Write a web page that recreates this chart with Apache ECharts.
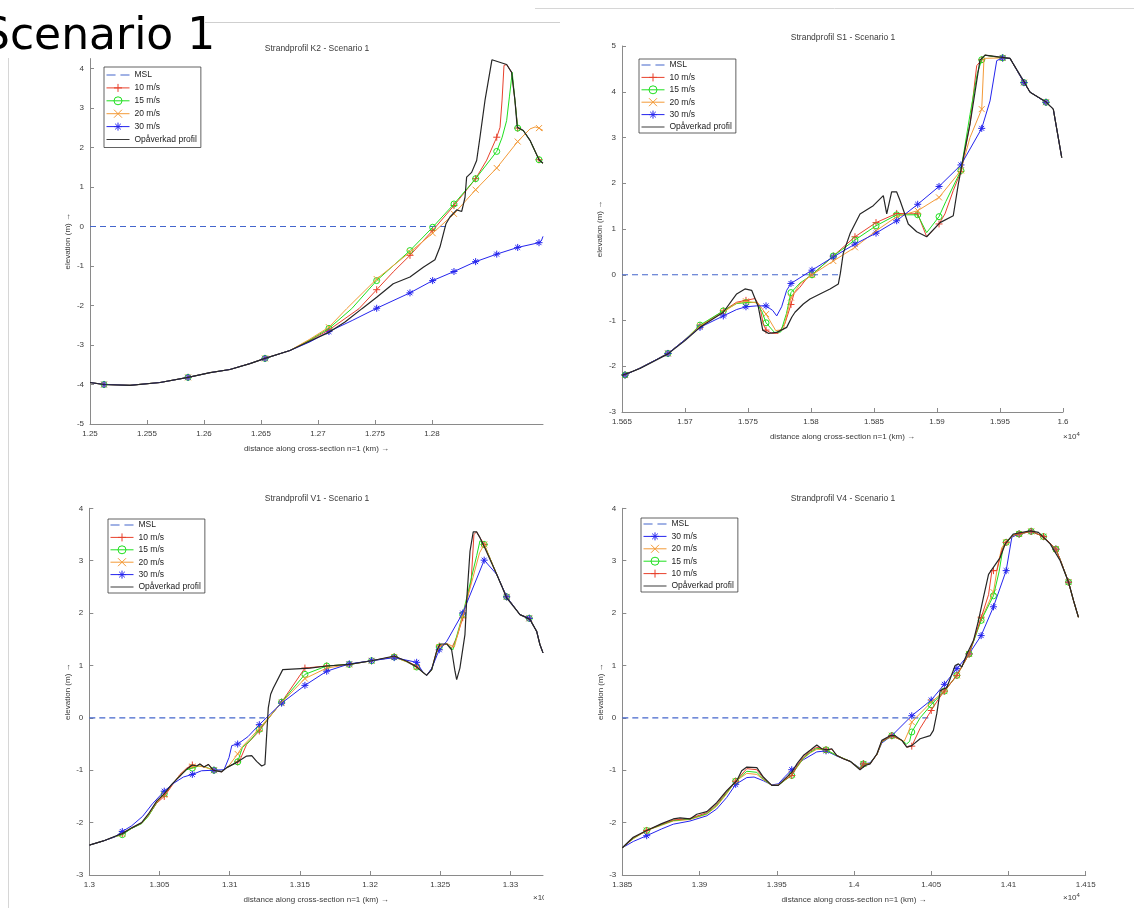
<!DOCTYPE html>
<html>
<head>
<meta charset="utf-8">
<script src="https://cdn.jsdelivr.net/npm/echarts@6/dist/echarts.min.js"></script>
<style>
html,body{margin:0;padding:0;background:#fff}
#chart{width:1134px;height:908px}
</style>
</head>
<body>
<div id="chart"></div>
<script>
// Beach profiles: distance along cross-section (x 10^4 m) against elevation (m).
// A third value of 1 marks a point where the series marker is drawn.

// ---- K2 ----
const K2_MSL = [[1.25, 0], [1.2813, 0]];
const K2_BASE = [[1.25,-3.95],[1.25123,-4.0,1],[1.25351,-4.02],[1.25614,-3.95],[1.2586,-3.82,1],[1.26053,-3.70],[1.26228,-3.62],[1.26404,-3.47],[1.26535,-3.34,1],[1.26754,-3.14]];
const K2_10 = K2_BASE.concat([[1.2693,-2.88],[1.27096,-2.62,1],[1.2736,-2.08],[1.27515,-1.60,1],[1.2766,-1.15],[1.27807,-0.73,1],[1.28006,-0.10,1],[1.28193,0.53,1],[1.28383,1.21,1],[1.2848,1.68],[1.28568,2.26,1],[1.28597,2.51],[1.28615,3.2],[1.28632,4.08],[1.28655,4.10],[1.28699,3.90],[1.28728,3.19],[1.28752,2.49,1],[1.28801,2.43],[1.2886,2.18],[1.28939,1.69,1],[1.28974,1.60]]);
const K2_15 = K2_BASE.concat([[1.2693,-2.87],[1.27096,-2.58,1],[1.27296,-2.08],[1.27515,-1.37,1],[1.27807,-0.61,1],[1.28006,-0.02,1],[1.28193,0.57,1],[1.28383,1.21,1],[1.28568,1.90,1],[1.28615,2.25],[1.28655,2.68],[1.2868,3.3],[1.28704,3.90],[1.28728,3.19],[1.28752,2.49,1],[1.28801,2.43],[1.2886,2.18],[1.28939,1.69,1],[1.28974,1.60]]);
const K2_20 = K2_BASE.concat([[1.2693,-2.85],[1.27096,-2.55,1],[1.27252,-2.08],[1.27515,-1.33,1],[1.27807,-0.65,1],[1.28006,-0.17,1],[1.28193,0.32,1],[1.28383,0.93,1],[1.28568,1.48,1],[1.28752,2.15,1],[1.2886,2.47],[1.28905,2.52],[1.28939,2.49,1],[1.28974,2.43]]);
const K2_30 = K2_BASE.concat([[1.2693,-2.92],[1.27096,-2.66,1],[1.2730,-2.38],[1.27515,-2.07,1],[1.27807,-1.68,1],[1.28006,-1.37,1],[1.28193,-1.14,1],[1.28383,-0.89,1],[1.28568,-0.70,1],[1.28752,-0.53,1],[1.28939,-0.41,1],[1.2896,-0.36],[1.28974,-0.25]]);
const K2_PROF = [[1.25,-3.95],[1.25123,-4.0],[1.25351,-4.02],[1.25614,-3.95],[1.2586,-3.82],[1.26053,-3.70],[1.26228,-3.62],[1.26404,-3.47],[1.26535,-3.34],[1.26754,-3.14],[1.2693,-2.90],[1.27096,-2.68],[1.27237,-2.42],[1.27386,-2.08],[1.27515,-1.79],[1.2766,-1.45],[1.27807,-1.28],[1.27924,-1.03],[1.28026,-0.84],[1.2807,-0.52],[1.28123,0.07],[1.28158,0.24],[1.28217,0.42],[1.28261,0.38],[1.2829,0.74],[1.28304,1.25],[1.28348,1.37],[1.28392,1.67],[1.28421,2.26],[1.28465,3.19],[1.28526,4.22],[1.28655,4.10],[1.28699,3.90],[1.28728,3.19],[1.28748,2.51],[1.28801,2.43],[1.2886,2.18],[1.28939,1.69],[1.28974,1.60]];

// ---- S1 ----
const S1_MSL = [[1.565, 0], [1.5822, 0]];
const S1_BASE = [[1.565,-2.2],[1.56524,-2.19,1],[1.56643,-2.04],[1.56762,-1.87],[1.56865,-1.72,1],[1.57,-1.42]];
const S1_TAIL = [[1.59521,4.74,1],[1.5958,4.73],[1.5969,4.20,1],[1.5974,3.99],[1.59865,3.77,1],[1.59923,3.62],[1.5999,2.56]];
const S1_10 = S1_BASE.concat([[1.57119,-1.12,1],[1.57304,-0.79,1],[1.5741,-0.60],[1.57484,-0.56,1],[1.57556,-0.52],[1.57595,-0.70],[1.5762,-1.07],[1.57643,-1.21,1],[1.57688,-1.28],[1.5774,-1.28],[1.57794,-1.06],[1.57841,-0.65,1],[1.57865,-0.41],[1.57913,-0.27],[1.57966,-0.08],[1.58008,0.0,1],[1.58177,0.41,1],[1.58349,0.83,1],[1.58516,1.14,1],[1.5868,1.34,1],[1.58847,1.33,1],[1.58918,0.83],[1.59016,1.11,1],[1.59063,1.33],[1.59129,1.84],[1.5919,2.26,1],[1.59262,3.30],[1.59315,4.57],[1.59355,4.70,1],[1.5938,4.80]], S1_TAIL);
const S1_15 = S1_BASE.concat([[1.57119,-1.10,1],[1.57304,-0.79,1],[1.5741,-0.63],[1.57484,-0.61,1],[1.57565,-0.60],[1.5761,-0.80],[1.57643,-1.05,1],[1.5771,-1.26],[1.5776,-1.25],[1.57805,-0.85],[1.57841,-0.39,1],[1.57913,-0.18],[1.58008,0.0,1],[1.58177,0.41,1],[1.58349,0.76,1],[1.58516,1.07,1],[1.5868,1.31,1],[1.58847,1.31,1],[1.58918,0.92],[1.59016,1.27,1],[1.5907,1.6],[1.5919,2.28,1],[1.59262,3.5],[1.5932,4.4],[1.59355,4.70,1],[1.5938,4.80]], S1_TAIL);
const S1_20 = S1_BASE.concat([[1.57119,-1.12,1],[1.57304,-0.82,1],[1.5741,-0.62],[1.57484,-0.58,1],[1.5758,-0.62],[1.57643,-0.86,1],[1.5772,-1.22],[1.5778,-1.20],[1.57841,-0.50,1],[1.57913,-0.20],[1.58008,0.0,1],[1.58177,0.30,1],[1.58349,0.60,1],[1.58516,0.96,1],[1.5868,1.27,1],[1.58847,1.40,1],[1.59016,1.69,1],[1.5919,2.28,1],[1.59262,3.0],[1.59355,3.62,1],[1.59373,4.73]], S1_TAIL);
const S1_30 = S1_BASE.concat([[1.57119,-1.15,1],[1.57304,-0.90,1],[1.5741,-0.76],[1.57484,-0.70,1],[1.5757,-0.68],[1.57643,-0.68,1],[1.57696,-0.78],[1.57728,-0.90],[1.57767,-0.70],[1.57807,-0.34],[1.57841,-0.19,1],[1.58008,0.10,1],[1.58177,0.39,1],[1.58349,0.67,1],[1.58516,0.91,1],[1.5868,1.18,1],[1.58847,1.54,1],[1.59016,1.93,1],[1.5919,2.40,1],[1.59355,3.20,1],[1.59421,3.80],[1.59474,4.68]], S1_TAIL);
const S1_PROF = [[1.565,-2.2],[1.56643,-2.05],[1.56762,-1.88],[1.56865,-1.73],[1.57,-1.44],[1.57119,-1.15],[1.57304,-0.82],[1.5741,-0.42],[1.57476,-0.31],[1.57529,-0.34],[1.57582,-0.70],[1.57617,-1.21],[1.57661,-1.28],[1.57728,-1.26],[1.57807,-1.15],[1.57847,-0.93],[1.57873,-0.82],[1.57939,-0.64],[1.57992,-0.53],[1.58071,-0.42],[1.58151,-0.31],[1.58217,-0.20],[1.58233,0.03],[1.58256,0.47],[1.5831,0.90],[1.58389,1.33],[1.58494,1.51],[1.58574,1.73],[1.58601,1.33],[1.5864,1.81],[1.5868,1.81],[1.58706,1.63],[1.58772,1.11],[1.58839,0.94],[1.58918,0.83],[1.59024,1.14],[1.59129,1.29],[1.59169,1.98],[1.59209,2.56],[1.59262,3.29],[1.59341,4.69],[1.59381,4.80],[1.59579,4.73],[1.59685,4.25],[1.59738,3.99],[1.59865,3.78],[1.59923,3.62],[1.5999,2.56]];

// ---- V1 ----
const V1_MSL = [[1.3, 0], [1.3125, 0]];
const V1_BASE = [[1.3,-2.43],[1.3010,-2.35],[1.30183,-2.27]];
const V1_TAIL = [[1.32902,2.74],[1.32973,2.31,1],[1.33068,1.97],[1.33134,1.90,1],[1.33187,1.65],[1.3321,1.40],[1.33232,1.24]];
const V1_10 = V1_BASE.concat([[1.30235,-2.21,1],[1.30302,-2.11],[1.30373,-2.01],[1.3042,-1.87],[1.3048,-1.63],[1.30534,-1.50,1],[1.30587,-1.30],[1.30646,-1.08],[1.30694,-0.96],[1.30734,-0.90,1],[1.30765,-0.92],[1.30788,-0.88],[1.30817,-0.94],[1.30848,-0.89],[1.30888,-1.0,1],[1.30943,-1.03],[1.30979,-0.95],[1.31057,-0.84,1],[1.3108,-0.76],[1.3112,-0.51],[1.31211,-0.25,1],[1.3128,0.0],[1.3137,0.30,1],[1.31536,0.95,1],[1.31691,0.99,1],[1.31852,1.02,1],[1.32011,1.09,1],[1.32172,1.17,1],[1.32261,1.08],[1.32332,0.99,1],[1.32368,0.89],[1.32403,0.81],[1.32439,0.92],[1.32474,1.27],[1.32493,1.37,1],[1.32546,1.41],[1.32581,1.33],[1.3262,1.55],[1.3266,1.91,1],[1.3272,2.6],[1.3274,3.5],[1.32759,3.55],[1.32783,3.44],[1.32813,3.31,1]], V1_TAIL);
const V1_15 = V1_BASE.concat([[1.30235,-2.23,1],[1.30302,-2.11],[1.30373,-2.02],[1.3042,-1.88],[1.3048,-1.62],[1.30534,-1.45,1],[1.30587,-1.28],[1.30646,-1.10],[1.30694,-0.99],[1.30734,-0.96,1],[1.3078,-0.92],[1.3082,-0.93],[1.30888,-1.0,1],[1.30943,-1.02],[1.30979,-0.95],[1.31057,-0.84,1],[1.3109,-0.57],[1.3115,-0.42],[1.31211,-0.22,1],[1.3137,0.30,1],[1.31536,0.83,1],[1.31691,0.99,1],[1.31852,1.02,1],[1.32011,1.09,1],[1.32172,1.16,1],[1.32261,1.07],[1.32332,0.97,1],[1.32368,0.89],[1.32403,0.81],[1.32439,0.92],[1.32474,1.25],[1.32493,1.35,1],[1.32546,1.42],[1.3259,1.30],[1.3266,1.97,1],[1.3276,3.1],[1.32783,3.38],[1.32813,3.31,1]], V1_TAIL);
const V1_20 = V1_BASE.concat([[1.30235,-2.21,1],[1.30302,-2.10],[1.30373,-2.01],[1.3042,-1.86],[1.3048,-1.61],[1.30534,-1.47,1],[1.30587,-1.28],[1.30646,-1.09],[1.30694,-0.97],[1.30734,-0.93,1],[1.3078,-0.92],[1.3082,-0.94],[1.30888,-1.0,1],[1.30943,-1.02],[1.3099,-0.93],[1.31057,-0.69,1],[1.3109,-0.55],[1.3115,-0.38],[1.31211,-0.20,1],[1.3137,0.29,1],[1.31536,0.75,1],[1.31691,0.95,1],[1.31852,1.02,1],[1.32011,1.09,1],[1.32172,1.16,1],[1.32261,1.07],[1.32332,0.97,1],[1.32368,0.89],[1.32403,0.81],[1.32439,0.93],[1.32474,1.25],[1.32493,1.35,1],[1.32546,1.42],[1.326,1.35],[1.3266,1.95,1],[1.3278,3.15],[1.32813,3.31,1]], V1_TAIL);
const V1_30 = V1_BASE.concat([[1.30235,-2.17,1],[1.30302,-2.06],[1.3038,-1.88],[1.3045,-1.64],[1.30534,-1.40,1],[1.3060,-1.25],[1.3067,-1.13],[1.30734,-1.08,1],[1.3080,-1.01],[1.30888,-1.0,1],[1.3096,-0.99],[1.30995,-0.76],[1.31015,-0.53],[1.31057,-0.50,1],[1.3113,-0.36],[1.31211,-0.13,1],[1.31292,0.08],[1.3137,0.28,1],[1.31536,0.62,1],[1.31691,0.89,1],[1.31852,1.03,1],[1.32011,1.09,1],[1.32172,1.15,1],[1.32332,1.06,1],[1.32375,0.88],[1.32403,0.81],[1.3244,0.95],[1.32493,1.30,1],[1.32546,1.46],[1.3266,2.0,1],[1.32813,3.01,1]], V1_TAIL);
const V1_PROF = [[1.3,-2.43],[1.3010,-2.35],[1.30183,-2.26],[1.30235,-2.21],[1.30302,-2.10],[1.30373,-2.0],[1.3042,-1.84],[1.3048,-1.59],[1.30534,-1.45],[1.30587,-1.27],[1.30646,-1.11],[1.30694,-0.98],[1.30734,-0.90],[1.30765,-0.92],[1.30788,-0.88],[1.30817,-0.94],[1.30848,-0.89],[1.30883,-1.0],[1.30943,-1.03],[1.30979,-0.95],[1.31057,-0.84],[1.31121,-0.73],[1.31157,-0.72],[1.31192,-0.83],[1.31228,-0.92],[1.31251,-0.89],[1.31275,0.19],[1.31292,0.45],[1.31311,0.57],[1.31378,0.92],[1.31572,0.95],[1.31691,0.99],[1.31852,1.02],[1.32011,1.09],[1.32172,1.18],[1.32261,1.08],[1.32332,0.97],[1.32368,0.89],[1.32403,0.81],[1.32439,0.92],[1.32474,1.27],[1.32498,1.41],[1.32546,1.41],[1.32581,1.30],[1.32605,0.89],[1.32617,0.73],[1.3264,0.95],[1.32676,1.59],[1.32688,2.23],[1.32712,3.18],[1.32735,3.55],[1.32759,3.55],[1.32783,3.44],[1.32818,3.24],[1.32902,2.74],[1.32973,2.29],[1.33068,1.97],[1.33139,1.88],[1.33187,1.65],[1.3321,1.40],[1.33232,1.24]];

// ---- V4 ----
const V4_MSL = [[1.385, 0], [1.405, 0]];
const V4_TAIL = [[1.41069,3.51,1],[1.41147,3.56,1],[1.41227,3.46,1],[1.41307,3.22,1],[1.41335,3.02],[1.41389,2.59,1],[1.41421,2.24],[1.41453,1.92]];
const V4_10 = [[1.385,-2.48],[1.38571,-2.29],[1.38658,-2.15,1],[1.38755,-2.03],[1.3883,-1.95],[1.38938,-1.92],[1.39047,-1.81],[1.39111,-1.65],[1.39176,-1.41],[1.39234,-1.21,1],[1.39306,-0.97],[1.39371,-0.99],[1.39413,-1.15],[1.39468,-1.29],[1.3951,-1.29],[1.39554,-1.18],[1.39597,-1.10,1],[1.3963,-0.92],[1.39672,-0.75],[1.39716,-0.64],[1.39759,-0.56],[1.39819,-0.61,1],[1.39856,-0.60],[1.39889,-0.72],[1.39931,-0.78],[1.39975,-0.83],[1.40039,-0.98],[1.40061,-0.88,1],[1.40104,-0.88],[1.40148,-0.70],[1.4018,-0.45],[1.40245,-0.34,1],[1.4031,-0.43],[1.40342,-0.56],[1.40374,-0.54,1],[1.40428,-0.20],[1.405,0.14,1],[1.40545,0.35],[1.40585,0.51,1],[1.40666,0.81,1],[1.40745,1.22,1],[1.40823,1.91,1],[1.40871,2.35],[1.40893,2.81],[1.40903,2.81,1],[1.40925,2.81],[1.40957,3.2],[1.40985,3.35,1],[1.41032,3.49]].concat(V4_TAIL);
const V4_15 = [[1.385,-2.48],[1.38571,-2.30],[1.38658,-2.15,1],[1.38755,-2.04],[1.3883,-1.96],[1.38938,-1.93],[1.39047,-1.83],[1.39111,-1.67],[1.39176,-1.43],[1.39234,-1.21,1],[1.39306,-1.02],[1.39371,-1.04],[1.39413,-1.17],[1.39468,-1.29],[1.3951,-1.29],[1.39554,-1.19],[1.39597,-1.10,1],[1.3963,-0.94],[1.39672,-0.77],[1.39716,-0.66],[1.39759,-0.58],[1.39819,-0.61,1],[1.39889,-0.72],[1.39975,-0.83],[1.40039,-0.97],[1.40061,-0.88,1],[1.40104,-0.87],[1.40148,-0.70],[1.4018,-0.46],[1.40245,-0.34,1],[1.4031,-0.43],[1.4034,-0.50],[1.4036,-0.45],[1.40374,-0.27,1],[1.40428,0.0],[1.405,0.25,1],[1.40585,0.51,1],[1.40666,0.81,1],[1.40745,1.22,1],[1.40823,1.86,1],[1.40903,2.33,1],[1.4094,2.8],[1.40965,3.25],[1.40985,3.35,1],[1.41032,3.49]].concat(V4_TAIL);
const V4_20 = [[1.385,-2.48],[1.38571,-2.31],[1.38658,-2.15,1],[1.38755,-2.05],[1.3883,-1.97],[1.38938,-1.94],[1.39047,-1.84],[1.39111,-1.69],[1.39176,-1.45],[1.39234,-1.21,1],[1.39306,-1.06],[1.39371,-1.08],[1.39413,-1.18],[1.39468,-1.29],[1.3951,-1.28],[1.39554,-1.18],[1.39597,-1.08,1],[1.3963,-0.95],[1.39672,-0.78],[1.39716,-0.67],[1.39759,-0.60],[1.39819,-0.61,1],[1.39889,-0.72],[1.39975,-0.83],[1.40039,-0.97],[1.40061,-0.88,1],[1.40104,-0.87],[1.40148,-0.70],[1.4018,-0.46],[1.40245,-0.34,1],[1.4031,-0.43],[1.40325,-0.45],[1.40355,-0.25],[1.40374,-0.08,1],[1.405,0.30,1],[1.40585,0.51,1],[1.40666,0.81,1],[1.40745,1.22,1],[1.40823,1.88,1],[1.40903,2.40,1],[1.4093,2.9],[1.40957,3.25],[1.40985,3.35,1],[1.41032,3.49]].concat(V4_TAIL);
const V4_30 = [[1.385,-2.48],[1.38571,-2.36],[1.38658,-2.25,1],[1.38755,-2.12],[1.3883,-2.03],[1.38938,-1.97],[1.39047,-1.87],[1.39111,-1.74],[1.39176,-1.52],[1.39234,-1.27,1],[1.39306,-1.14],[1.39353,-1.13],[1.39413,-1.20],[1.39468,-1.28],[1.3951,-1.26],[1.39554,-1.12],[1.39597,-0.99,1],[1.39672,-0.80],[1.39759,-0.65],[1.39819,-0.63,1],[1.39889,-0.73],[1.39975,-0.83],[1.40039,-0.96],[1.40061,-0.88,1],[1.40104,-0.86],[1.40148,-0.70],[1.4018,-0.48],[1.40245,-0.34,1],[1.40374,0.04,1],[1.405,0.34,1],[1.40585,0.64,1],[1.40666,0.94,1],[1.40745,1.22,1],[1.40823,1.57,1],[1.40903,2.12,1],[1.40985,2.81,1],[1.41022,3.45]].concat(V4_TAIL);
const V4_PROF = [[1.385,-2.48],[1.38571,-2.28],[1.38658,-2.15],[1.38755,-2.02],[1.3883,-1.93],[1.38874,-1.91],[1.38938,-1.93],[1.38982,-1.84],[1.39047,-1.79],[1.39111,-1.62],[1.39176,-1.39],[1.39241,-1.20],[1.39273,-1.01],[1.39306,-0.94],[1.39371,-0.95],[1.39413,-1.13],[1.39468,-1.29],[1.3951,-1.29],[1.39554,-1.16],[1.39597,-1.04],[1.3963,-0.88],[1.39672,-0.72],[1.39716,-0.62],[1.39759,-0.52],[1.39791,-0.59],[1.39824,-0.61],[1.39856,-0.59],[1.39889,-0.72],[1.39931,-0.78],[1.39975,-0.83],[1.40039,-0.99],[1.40072,-0.91],[1.40104,-0.88],[1.40148,-0.69],[1.4018,-0.43],[1.40234,-0.34],[1.40266,-0.34],[1.4031,-0.43],[1.40342,-0.56],[1.40374,-0.53],[1.40428,-0.40],[1.40493,-0.34],[1.40514,-0.24],[1.40536,0.08],[1.40558,0.52],[1.40601,0.58],[1.40655,1.00],[1.40676,1.03],[1.40698,0.97],[1.40731,1.22],[1.40774,1.48],[1.40806,1.86],[1.40838,2.30],[1.40871,2.74],[1.40946,3.06],[1.40979,3.32],[1.41032,3.51],[1.4114,3.57],[1.41194,3.54],[1.4127,3.32],[1.41335,3.00],[1.41389,2.59],[1.41421,2.24],[1.41453,1.92]];

// Axis tick values
const K2_XTICKS = [1.25, 1.255, 1.26, 1.265, 1.27, 1.275, 1.28];
const K2_YTICKS = [-5, -4, -3, -2, -1, 0, 1, 2, 3, 4];
const S1_XTICKS = [1.565, 1.57, 1.575, 1.58, 1.585, 1.59, 1.595, 1.6];
const S1_YTICKS = [-3, -2, -1, 0, 1, 2, 3, 4, 5];
const V1_XTICKS = [1.3, 1.305, 1.31, 1.315, 1.32, 1.325, 1.33];
const V1_YTICKS = [-3, -2, -1, 0, 1, 2, 3, 4];
const V4_XTICKS = [1.385, 1.39, 1.395, 1.4, 1.405, 1.41, 1.415];
const V4_YTICKS = [-3, -2, -1, 0, 1, 2, 3, 4];

const N_MSL = 'MSL', N10 = '10 m/s', N15 = '15 m/s', N20 = '20 m/s', N30 = '30 m/s', NPROF = 'Opåverkad profil';

const FONT = '"Liberation Sans", Arial, sans-serif';
const AXIS_GRAY = '#8a8a8a';
const TEXT_DARK = '#3a3a3a';

const SYM_PLUS = 'path://M5,0L5,10M0,5L10,5';
const SYM_X = 'path://M0,0L10,10M0,10L10,0';
const SYM_STAR = 'path://M5,0L5,10M0,5L10,5M1.5,1.5L8.5,8.5M1.5,8.5L8.5,1.5';
const ICON_DASH = 'path://M0,0H13V1.3H0Z M20,0H33V1.3H20Z';
const ICON_LINE = 'path://M0,0H33V1.3H0Z';

const STYLE = {};
STYLE[N_MSL] = { color: '#4466cc', dashed: true, width: 1.1 };
STYLE[N10] = { color: '#e8412c', symbol: SYM_PLUS, size: 7, width: 1 };
STYLE[N15] = { color: '#1fe01f', symbol: 'circle', size: 6, width: 1 };
STYLE[N20] = { color: '#f39a38', symbol: SYM_X, size: 6, width: 1 };
STYLE[N30] = { color: '#2424ee', symbol: SYM_STAR, size: 7, width: 1 };
STYLE[NPROF] = { color: '#262626', width: 1.2 };

const PANELS = [
  { title: 'Strandprofil K2 - Scenario 1', titlePos: [317, 44],
    grid: { left: 90, top: 58.6, width: 453, height: 365.4 },
    x: [1.25, 1.28974], y: [-5, 4.25], xt: K2_XTICKS, yt: K2_YTICKS,
    legendPos: [104, 67], legendGap: 2.9, legendPad: [3, 4, 3, 2],
    order: [N_MSL, N10, N15, N20, N30, NPROF],
    data: { [N_MSL]: K2_MSL, [N10]: K2_10, [N15]: K2_15, [N20]: K2_20, [N30]: K2_30, [NPROF]: K2_PROF } },
  { title: 'Strandprofil S1 - Scenario 1', titlePos: [843, 33],
    grid: { left: 622, top: 46, width: 441, height: 366 },
    x: [1.565, 1.6], y: [-3, 5], xt: S1_XTICKS, yt: S1_YTICKS,
    legendPos: [639, 59], legendGap: 2.4, legendPad: [1, 4, 1, 2],
    order: [N_MSL, N10, N15, N20, N30, NPROF],
    data: { [N_MSL]: S1_MSL, [N10]: S1_10, [N15]: S1_15, [N20]: S1_20, [N30]: S1_30, [NPROF]: S1_PROF } },
  { title: 'Strandprofil V1 - Scenario 1', titlePos: [317, 494],
    grid: { left: 89.3, top: 508.3, width: 453.7, height: 366.7 },
    x: [1.3, 1.33232], y: [-3, 4], xt: V1_XTICKS, yt: V1_YTICKS,
    legendPos: [108, 519], legendGap: 2.4, legendPad: [1, 4, 1, 2],
    order: [N_MSL, N10, N15, N20, N30, NPROF],
    data: { [N_MSL]: V1_MSL, [N10]: V1_10, [N15]: V1_15, [N20]: V1_20, [N30]: V1_30, [NPROF]: V1_PROF } },
  { title: 'Strandprofil V4 - Scenario 1', titlePos: [843, 494],
    grid: { left: 622.3, top: 508.3, width: 463.4, height: 366.7 },
    x: [1.385, 1.415], y: [-3, 4], xt: V4_XTICKS, yt: V4_YTICKS,
    legendPos: [641, 518], legendGap: 2.4, legendPad: [1, 4, 1, 2],
    order: [N_MSL, N30, N20, N15, N10, NPROF],
    data: { [N_MSL]: V4_MSL, [N10]: V4_10, [N15]: V4_15, [N20]: V4_20, [N30]: V4_30, [NPROF]: V4_PROF } }
];

const grids = [], xAxes = [], yAxes = [], series = [], legends = [], titles = [];

function fmt(v) { return String(Math.round(v * 1000) / 1000); }

PANELS.forEach(function (p, gi) {
  grids.push(Object.assign({ containLabel: false }, p.grid));
  xAxes.push({
    type: 'value', gridIndex: gi, min: p.x[0], max: p.x[1],
    axisLine: { onZero: false, lineStyle: { color: AXIS_GRAY, width: 1 } },
    axisTick: { inside: true, length: 4, customValues: p.xt, lineStyle: { color: AXIS_GRAY } },
    axisLabel: { customValues: p.xt, formatter: fmt, fontSize: 8, color: TEXT_DARK, fontFamily: FONT, margin: 6 },
    splitLine: { show: false },
    name: 'distance along cross-section n=1 (km) →', nameLocation: 'middle', nameGap: 21,
    nameTextStyle: { fontSize: 8, color: TEXT_DARK, fontFamily: FONT }
  });
  yAxes.push({
    type: 'value', gridIndex: gi, min: p.y[0], max: p.y[1],
    axisLine: { onZero: false, lineStyle: { color: AXIS_GRAY, width: 1 } },
    axisTick: { inside: true, length: 4, customValues: p.yt, lineStyle: { color: AXIS_GRAY } },
    axisLabel: { customValues: p.yt, formatter: fmt, fontSize: 8, color: TEXT_DARK, fontFamily: FONT, margin: 6 },
    splitLine: { show: false },
    name: 'elevation (m) →', nameLocation: 'middle', nameGap: 18, nameRotate: 90,
    nameTextStyle: { fontSize: 8, color: TEXT_DARK, fontFamily: FONT }
  });
  titles.push({
    text: p.title, left: p.titlePos[0], top: p.titlePos[1], textAlign: 'center', padding: 0,
    textStyle: { fontSize: 8.5, fontWeight: 'normal', color: TEXT_DARK, fontFamily: FONT }
  });

  p.order.forEach(function (name) {
    const st = STYLE[name];
    const pts = p.data[name];
    series.push({
      type: 'line', name: name, xAxisIndex: gi, yAxisIndex: gi,
      data: pts.map(function (d) { return [d[0], d[1]]; }),
      showSymbol: false, symbol: st.symbol || 'none', symbolSize: st.size || 0,
      lineStyle: { color: st.color, width: st.width, type: st.dashed ? [6, 4] : 'solid' },
      itemStyle: { color: st.color, borderColor: st.color },
      silent: true, animation: false
    });
    const marks = pts.filter(function (d) { return d[2]; });
    if (st.symbol && marks.length) {
      series.push({
        type: 'scatter', name: name, xAxisIndex: gi, yAxisIndex: gi,
        data: marks.map(function (d) { return [d[0], d[1]]; }),
        symbol: st.symbol, symbolSize: st.size,
        itemStyle: { color: st.symbol === 'circle' ? 'rgba(0,0,0,0)' : st.color, borderColor: st.color, borderWidth: 1, opacity: 1 },
        silent: true, animation: false
      });
    }
  });

  legends.push({
    orient: 'vertical', left: p.legendPos[0], top: p.legendPos[1],
    itemWidth: 23, itemHeight: 10, itemGap: p.legendGap, padding: p.legendPad,
    backgroundColor: '#fff', borderColor: '#3a3a3a', borderWidth: 0.8,
    selectedMode: false,
    textStyle: { fontSize: 8.5, color: '#222', fontFamily: FONT, lineHeight: 10 },
    itemStyle: { color: 'rgba(0,0,0,0)', borderWidth: 1 },
    lineStyle: { width: 1 },
    data: p.order.map(function (name) {
      if (name === N_MSL) return { name: name, icon: ICON_DASH, itemStyle: { color: STYLE[name].color, borderWidth: 0 } };
      if (name === NPROF) return { name: name, icon: ICON_LINE, itemStyle: { color: STYLE[name].color, borderWidth: 0 } };
      return { name: name };
    })
  });
});

const SUP = { s: { fontSize: 6, verticalAlign: 'top', padding: [0, 0, 6, 0] } };
const graphics = [
  { type: 'line', shape: { x1: 205, y1: 22.5, x2: 560, y2: 22.5 }, style: { stroke: '#cfcfcf', lineWidth: 1 }, silent: true },
  { type: 'line', shape: { x1: 535, y1: 8.5, x2: 1134, y2: 8.5 }, style: { stroke: '#d6d6d6', lineWidth: 1 }, silent: true },
  { type: 'line', shape: { x1: 8.5, y1: 58, x2: 8.5, y2: 908 }, style: { stroke: '#d6d6d6', lineWidth: 1 }, silent: true },
  { type: 'text', x: -18, y: 16, style: { text: 'Scenario 1', font: '44px "DejaVu Sans", Verdana, sans-serif', fill: '#000' }, silent: true },
  { type: 'text', x: 1063, y: 431, style: { text: '×10{s|4}', rich: SUP, font: '8px "Liberation Sans", Arial, sans-serif', fill: TEXT_DARK }, silent: true },
  { type: 'text', x: 1063, y: 892, style: { text: '×10{s|4}', rich: SUP, font: '8px "Liberation Sans", Arial, sans-serif', fill: TEXT_DARK }, silent: true },
  { type: 'text', x: 533, y: 892, style: { text: '×10{s|4}', rich: SUP, font: '8px "Liberation Sans", Arial, sans-serif', fill: TEXT_DARK }, silent: true },
  { type: 'rect', z: 100, shape: { x: 544, y: 470, width: 20, height: 438 }, style: { fill: '#fff' }, silent: true }
];

const chart = echarts.init(document.getElementById('chart'), null, { renderer: 'canvas' });
chart.setOption({
  backgroundColor: '#ffffff',
  animation: false,
  title: titles,
  grid: grids,
  xAxis: xAxes,
  yAxis: yAxes,
  legend: legends,
  series: series,
  graphic: graphics
});
</script>
</body>
</html>
